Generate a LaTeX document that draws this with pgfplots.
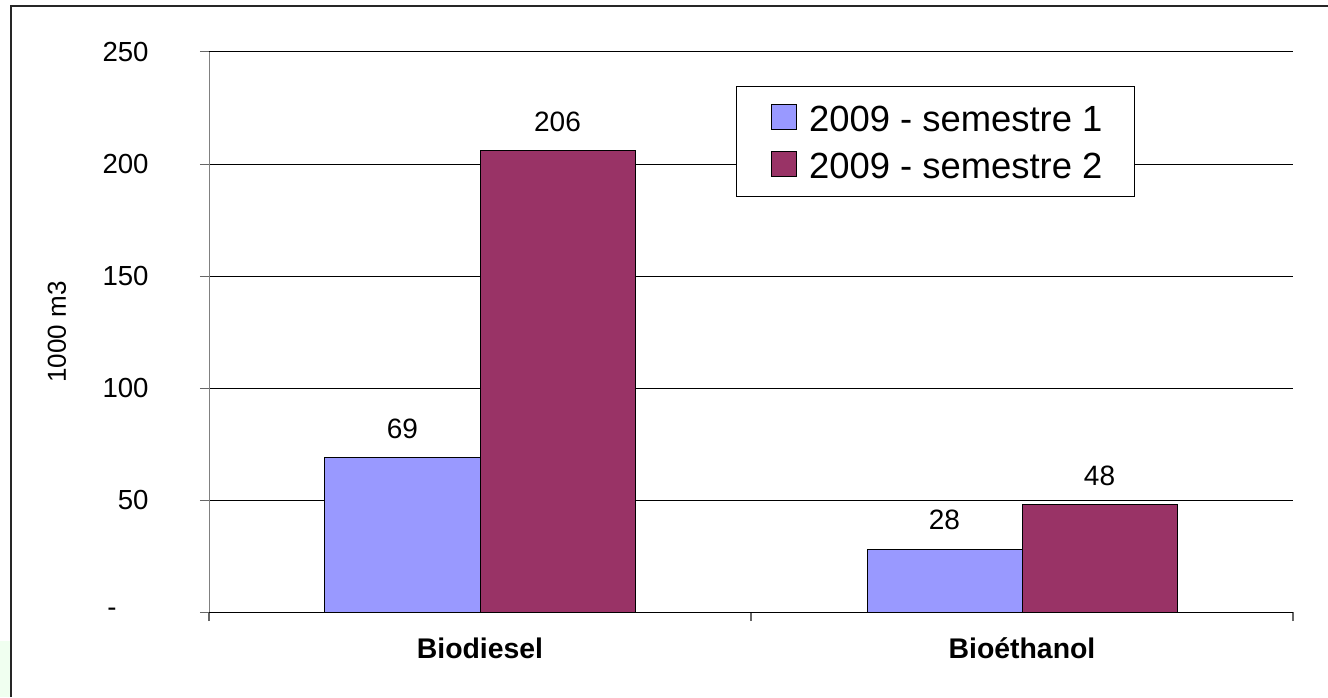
\documentclass[border=0pt]{standalone}
\usepackage{pgfplots}
\pgfplotsset{compat=1.18}
\usepackage{fontspec}
\setmainfont{Liberation Sans}
\definecolor{semA}{HTML}{9999FF}
\definecolor{semB}{HTML}{993366}
\begin{document}
\begin{tikzpicture}
\useasboundingbox (0,0) rectangle (664pt,348.5pt);
\fill[green!6] (0,0) rectangle (5pt,28pt);
\draw[line width=1pt, black!85] (5.5pt,0) -- (5.5pt,345.5pt) -- (664pt,345.5pt);
\begin{axis}[
  at={(104.5pt,42.5pt)}, anchor=south west,
  scale only axis, width=542pt, height=280pt,
  /pgf/number format/assume math mode=true,
  ybar=0pt, bar width=77.5pt,
  xmin=-0.5, xmax=1.5, ymin=0, ymax=250,
  axis x line=bottom, axis y line=left,
  axis line style={-},
  y axis line style={draw=gray},
  x axis line style={draw=black},
  xtick={-0.5,0.5,1.5}, xticklabels={},
  x tick style={draw=gray!80!black, line width=0.8pt},
  extra x ticks={0,1}, extra x tick labels={Biodiesel,Bioéthanol},
  extra x tick style={major tick length=0pt, tick style={draw=none}},
  xticklabel style={font=\fontsize{14.2}{16}\selectfont\bfseries, anchor=base, inner sep=0pt, yshift=-23pt},
  ytick={0,50,100,150,200,250},
  yticklabels={{-\hspace*{16pt}},50,100,150,200,250},
  yticklabel style={font=\fontsize{13.8}{16}\selectfont, anchor=east, inner sep=0pt, xshift=-25.5pt},
  y tick style={draw=gray!80!black, line width=0.5pt},
  tick align=outside, major tick length=4.5pt,
  ymajorgrids, grid style={black, line width=0.5pt},
  ylabel={1000 m3},
  ylabel style={font=\fontsize{13}{15}\selectfont, at={(axis description cs:-0.1402,0.5)}, anchor=center, rotate=0},
  nodes near coords,
  nodes near coords style={font=\fontsize{14}{16}\selectfont, anchor=center, yshift=14.5pt},
  legend style={at={(rel axis cs:0.4862,0.9393)}, anchor=north west,
    draw=black, line width=0.5pt, inner xsep=13pt, inner ysep=4pt,
    font=\fontsize{18.2}{22}\selectfont,
    nodes={inner xsep=3pt, inner ysep=2.5pt, text height=16pt, text depth=2.5pt},
    /tikz/every odd column/.append style={column sep=3pt}},
  legend cell align=left,
  legend image code/.code={\path[draw=none,fill=none] (0pt,0pt) -- (17pt,0pt);\draw[#1, line width=0.5pt] (4.5pt,-6pt) rectangle (17pt,6.5pt);},
]
\addplot[fill=semA, draw=black, line width=0.5pt] coordinates {(0,69) (1,28)};
\addplot[fill=semB, draw=black, line width=0.5pt] coordinates {(0,206) (1,48)};
\legend{2009 - semestre 1, 2009 - semestre 2}
\end{axis}
\end{tikzpicture}
\end{document}
